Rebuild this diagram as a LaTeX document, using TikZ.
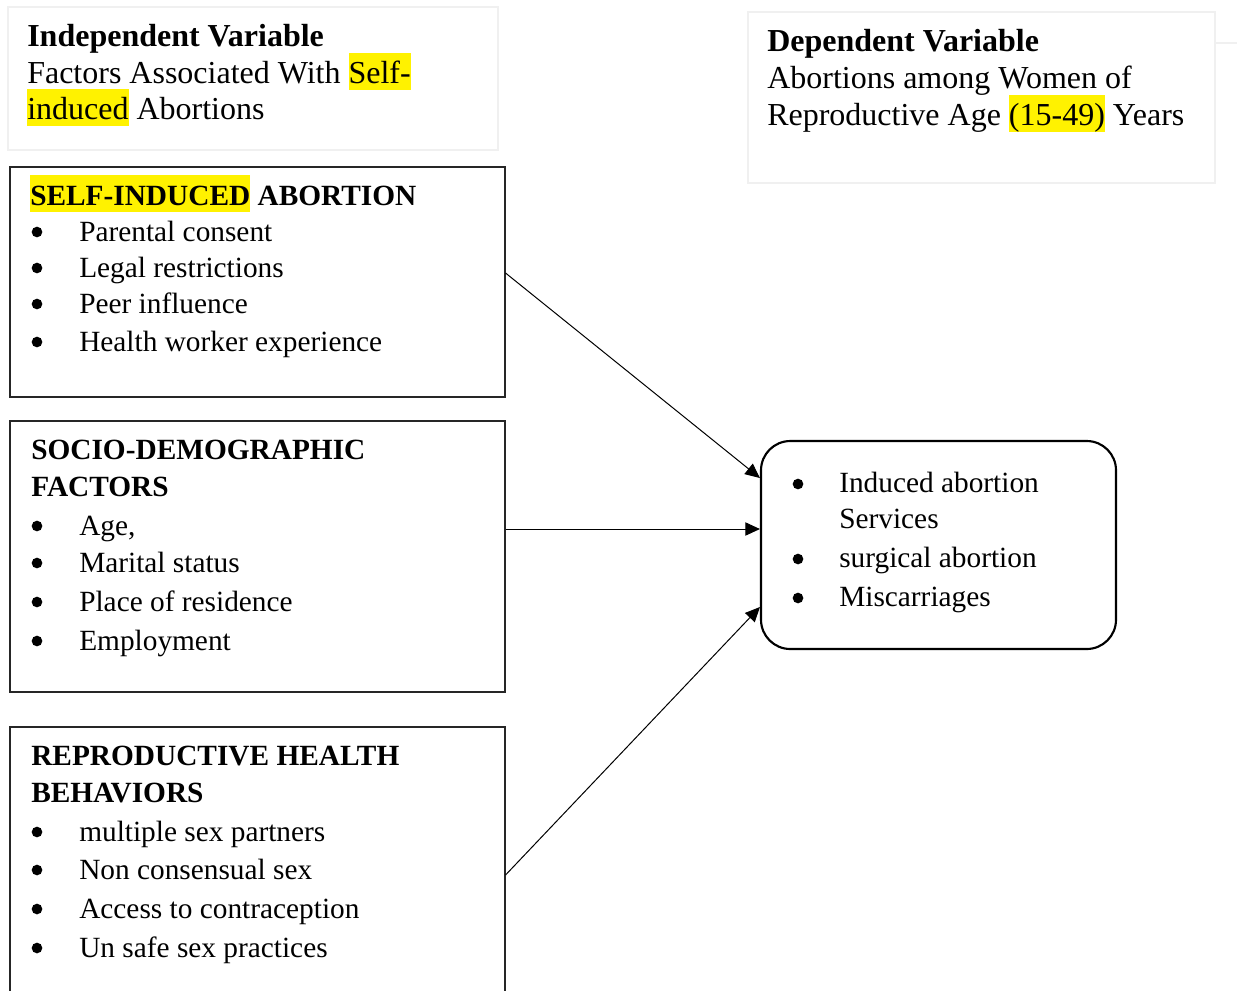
\documentclass[tikz,border=0pt]{standalone}
\usepackage{fontspec}
\setmainfont{Liberation Serif}
\usetikzlibrary{arrows.meta}
\newcommand\hlt[1]{{\setlength{\fboxsep}{0pt}\colorbox{yellow}{\rule[-5.2pt]{0pt}{27.7pt}#1}}}
\tikzset{
  faint/.style={draw=black!6, line width=1.2pt},
  factorbox/.style={draw=black!85, line width=0.8pt},
  outbox/.style={draw=black, line width=1.6pt, rounded corners=22pt},
  txt/.style={anchor=base west, inner sep=0pt, font=\fontsize{22pt}{27.75pt}\selectfont},
  htxt/.style={anchor=base west, inner sep=0pt, font=\fontsize{24pt}{27.75pt}\selectfont},
  dot/.style={circle, fill=black, inner sep=0pt, minimum size=8pt},
  arr/.style={draw=black, line width=0.75pt, -{Triangle[length=11pt,width=10pt]}}
}
\begin{document}
\begin{tikzpicture}[x=0.75pt,y=-0.75pt]
\useasboundingbox (0,0) rectangle (1237,990);
\clip (0,0) rectangle (1237,990);
% faint header boxes
\node[faint, minimum width=490*0.75pt, minimum height=143*0.75pt, inner sep=0pt] (ivbox) at (253,78.5) {};
\node[faint, minimum width=467*0.75pt, minimum height=171*0.75pt, inner sep=0pt] (dvbox) at (981.5,97.5) {};
\draw[draw=black!6, line width=1.2pt] (dvbox.east |- 0,43) coordinate (dvx) -- (1237,43) coordinate (dvy);
\node[htxt] (iv1) at (27,46) {\bfseries Independent Variable};
\node[htxt] (iv2) at (27,83) {Factors Associated With \hlt{Self-}};
\node[htxt] (iv3) at (27,119) {\hlt{induced} Abortions};
\node[htxt] (dv1) at (767,51) {\bfseries Dependent Variable};
\node[htxt] (dv2) at (767,88) {Abortions among Women of};
\node[htxt] (dv3) at (767,125) {Reproductive Age \hlt{(15-49)} Years};
% factor boxes
\node[factorbox, minimum width=495*0.75pt, minimum height=230*0.75pt, inner sep=0pt] (box1) at (257.5,282) {};
\node[factorbox, minimum width=495*0.75pt, minimum height=271*0.75pt, inner sep=0pt] (box2) at (257.5,556.5) {};
\node[factorbox, minimum width=495*0.75pt, minimum height=300*0.75pt, inner sep=0pt] (box3) at (257.5,877) {};
% box1 text
\node[txt] (b1t) at (30,205) {\bfseries\hlt{SELF-INDUCED} ABORTION};
\node[dot] (b1b1) at (37,232) {}; \node[txt] (b1i1) at (79,241) {Parental consent};
\node[dot] (b1b2) at (37,268) {}; \node[txt] (b1i2) at (79,277) {Legal restrictions};
\node[dot] (b1b3) at (37,304) {}; \node[txt] (b1i3) at (79,313) {Peer influence};
\node[dot] (b1b4) at (37,342) {}; \node[txt] (b1i4) at (79,351) {Health worker experience};
% box2 text
\node[txt] (b2t1) at (31,459) {\bfseries SOCIO-DEMOGRAPHIC};
\node[txt] (b2t2) at (31,496) {\bfseries FACTORS};
\node[dot] (b2b1) at (37,526) {}; \node[txt] (b2i1) at (79,535) {Age,};
\node[dot] (b2b2) at (37,563) {}; \node[txt] (b2i2) at (79,572) {Marital status};
\node[dot] (b2b3) at (37,602) {}; \node[txt] (b2i3) at (79,611) {Place of residence};
\node[dot] (b2b4) at (37,641) {}; \node[txt] (b2i4) at (79,650) {Employment};
% box3 text
\node[txt] (b3t1) at (31,765) {\bfseries REPRODUCTIVE HEALTH};
\node[txt] (b3t2) at (31,802) {\bfseries BEHAVIORS};
\node[dot] (b3b1) at (37,832) {}; \node[txt] (b3i1) at (79,841) {multiple sex partners};
\node[dot] (b3b2) at (37,870) {}; \node[txt] (b3i2) at (79,879) {Non consensual sex};
\node[dot] (b3b3) at (37,909) {}; \node[txt] (b3i3) at (79,918) {Access to contraception};
\node[dot] (b3b4) at (37,948) {}; \node[txt] (b3i4) at (79,957) {Un safe sex practices};
% outcome box
\node[outbox, minimum width=355*0.75pt, minimum height=208*0.75pt, inner sep=0pt] (out) at (938.5,545) {};
\node[dot] (ob1) at (798,484) {}; \node[txt] (oi1) at (839,492) {Induced abortion};
\node[txt] (oi1b) at (839,528) {Services};
\node[dot] (ob2) at (798,559) {}; \node[txt] (oi2) at (839,567) {surgical abortion};
\node[dot] (ob3) at (798,598) {}; \node[txt] (oi3) at (839,606) {Miscarriages};
% connectors
\coordinate (s1) at (box1.east |- 0,273);
\coordinate (s2) at (box2.east |- 0,529);
\coordinate (s3) at (box3.east |- 0,875);
\coordinate (t1) at (out.west |- 0,478);
\coordinate (t2) at (out.west |- 0,529);
\coordinate (t3) at (out.west |- 0,607);
\draw[arr] (s1) -- (t1);
\draw[arr] (s2) -- (t2);
\draw[arr] (s3) -- (t3);
\end{tikzpicture}
\end{document}
